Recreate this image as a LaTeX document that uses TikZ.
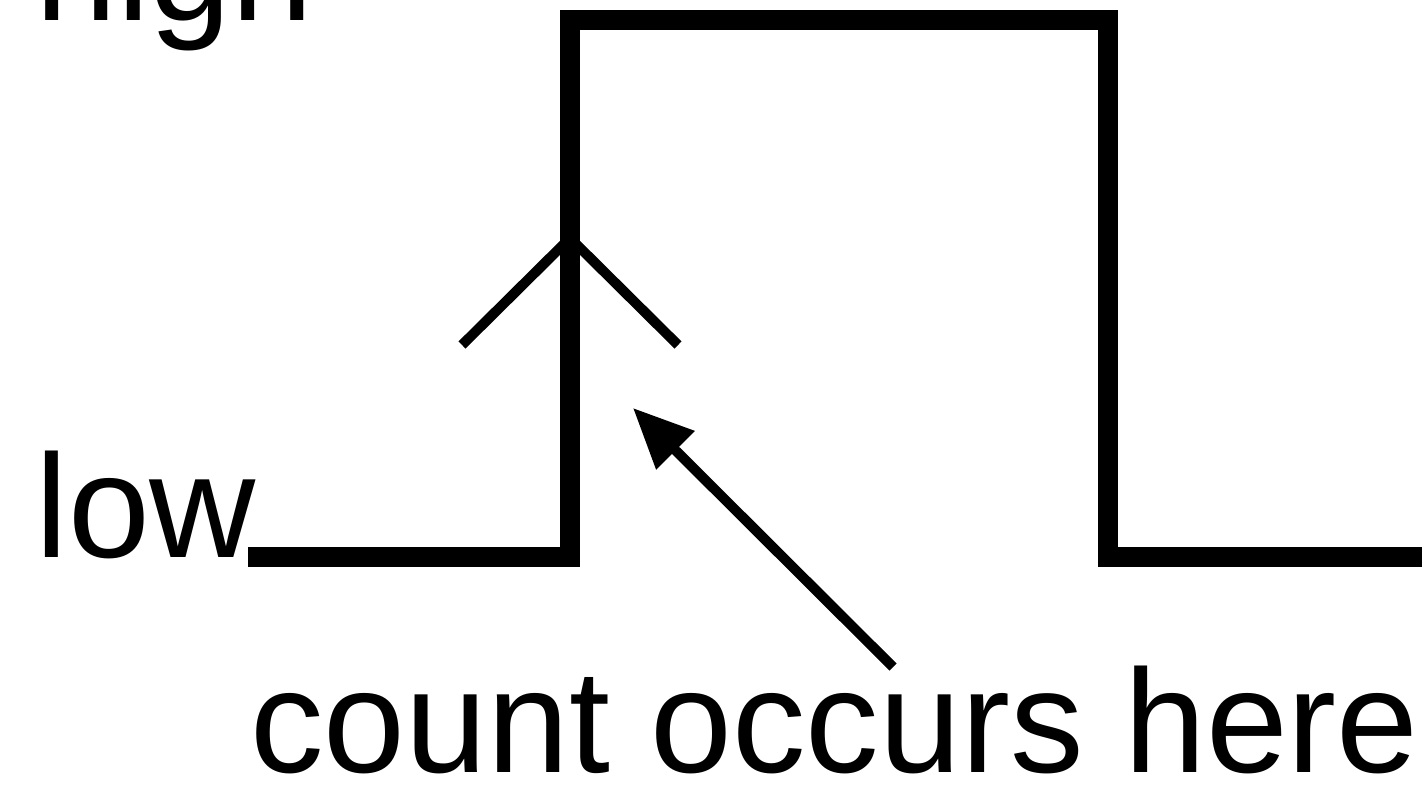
\documentclass[tikz,border=0pt]{standalone}
\usepackage{fontspec}
\setmainfont{Liberation Sans}
\usetikzlibrary{arrows.meta}

\begin{document}
\begin{tikzpicture}[x=0.5pt, y=-0.5pt, >={Triangle[length=30pt, width=26pt]},
    signal/.style={line width=10pt, line join=miter},
    tag/.style={inner sep=0pt, anchor=base west, font=\fontsize{73.5}{80}\selectfont}]
    \useasboundingbox (0,0) rectangle (1422,785);
    \clip (0,0) rectangle (1422,785);
    \node[tag] (high) at (35,21) {high};
    \node[tag] (low) at (35,557) {low};
    \node[tag] (count) at (250,772) {count occurs here};
    % the pulse
    \draw[signal] (248,557) -- (570,557) -- (570,20) -- (1108,20) -- (1108,557) -- (1422,557);
    % rising edge mark
    \draw[line width=5pt] (462,345) -- (570,238) -- (678,345);
    \coordinate (edge) at (633,408);
    \coordinate (tail) at (893,667);
    \draw[->, line width=5pt] (tail) -- (edge);
\end{tikzpicture}
\end{document}
